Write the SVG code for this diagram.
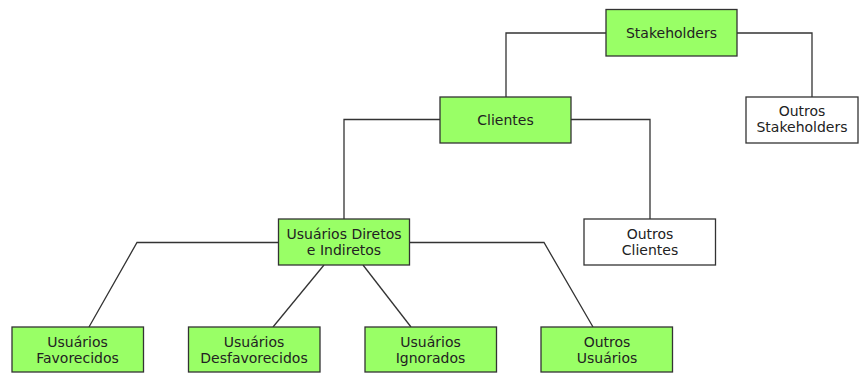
<svg xmlns="http://www.w3.org/2000/svg" width="864" height="373" viewBox="0 0 864 373">
  <style>
    .box { stroke: #333; stroke-width: 1.3; }
    .green { fill: #99ff66; }
    .white { fill: #ffffff; }
    .lbl { font-family: "DejaVu Sans", sans-serif; font-size: 14px; fill: #222; text-anchor: middle; }
    .edge { fill: none; stroke: #333; stroke-width: 1.3; }
  </style>
  <rect width="864" height="373" fill="#ffffff"/>

  <!-- tree connectors -->
  <g id="connectors">
    <polyline class="edge" points="606,33 506,33 506,97"/>
    <polyline class="edge" points="737,33 812,33 812,97"/>
    <polyline class="edge" points="440,119.5 344,119.5 344,219"/>
    <polyline class="edge" points="571,119.5 650,119.5 650,219"/>
    <polyline class="edge" points="278,242.5 137,242.5 89,327"/>
    <polyline class="edge" points="409,242.5 544,242.5 593,327"/>
    <line class="edge" x1="324" y1="265" x2="273" y2="327"/>
    <line class="edge" x1="363" y1="265" x2="411" y2="327"/>
  </g>

  <g id="stakeholders">
    <rect class="box green" x="606" y="9.5" width="131" height="46.5"/>
    <text class="lbl" x="671.5" y="38">Stakeholders</text>
  </g>
  <g id="outros-stakeholders">
    <rect class="box white" x="746" y="97" width="112" height="46"/>
    <text class="lbl" x="802" y="116">Outros</text>
    <text class="lbl" x="802" y="132">Stakeholders</text>
  </g>
  <g id="clientes">
    <rect class="box green" x="440" y="97" width="131" height="46"/>
    <text class="lbl" x="505.5" y="124.5">Clientes</text>
  </g>
  <g id="usuarios-diretos">
    <rect class="box green" x="278.5" y="219" width="131" height="46"/>
    <text class="lbl" x="344" y="238.5">Usuários Diretos</text>
    <text class="lbl" x="344" y="254.5">e Indiretos</text>
  </g>
  <g id="outros-clientes">
    <rect class="box white" x="584" y="219" width="131.5" height="46"/>
    <text class="lbl" x="650" y="238.5">Outros</text>
    <text class="lbl" x="650" y="254.5">Clientes</text>
  </g>
  <g id="usuarios-favorecidos">
    <rect class="box green" x="12" y="327" width="131.5" height="45"/>
    <text class="lbl" x="77.5" y="346.5">Usuários</text>
    <text class="lbl" x="77.5" y="362.5">Favorecidos</text>
  </g>
  <g id="usuarios-desfavorecidos">
    <rect class="box green" x="188.5" y="327" width="131.5" height="45"/>
    <text class="lbl" x="254" y="346.5">Usuários</text>
    <text class="lbl" x="254" y="362.5">Desfavorecidos</text>
  </g>
  <g id="usuarios-ignorados">
    <rect class="box green" x="365" y="327" width="131.5" height="45"/>
    <text class="lbl" x="430.5" y="346.5">Usuários</text>
    <text class="lbl" x="430.5" y="362.5">Ignorados</text>
  </g>
  <g id="outros-usuarios">
    <rect class="box green" x="541" y="327" width="131.5" height="45"/>
    <text class="lbl" x="607" y="346.5">Outros</text>
    <text class="lbl" x="607" y="362.5">Usuários</text>
  </g>
</svg>
